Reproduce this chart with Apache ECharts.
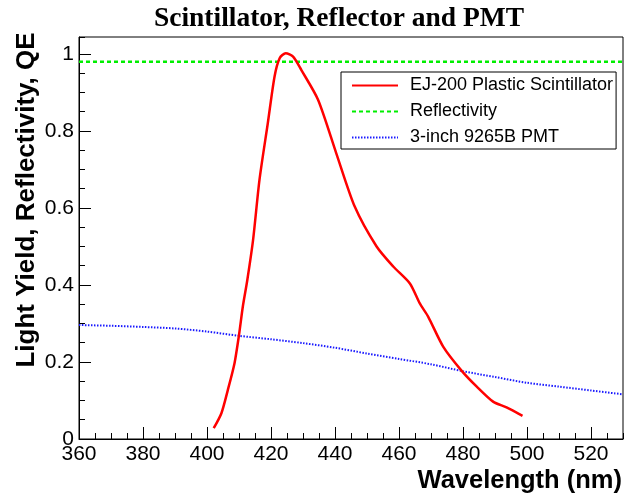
<!DOCTYPE html>
<html>
<head>
<meta charset="utf-8">
<script src="https://cdn.jsdelivr.net/npm/echarts@6/dist/echarts.min.js"></script>
<style>
  html, body { margin: 0; padding: 0; background: #ffffff; }
  #chart { width: 624px; height: 496px; }
</style>
</head>
<body>
<div id="chart"></div>
<script>
// EJ-200 emission spectrum (relative light yield vs wavelength, nm)
const scintWl = [402.1, 404.5, 406.5, 408.6, 410, 411.2, 412.6, 414.4, 416.4, 419, 421.1, 422.7, 424.6, 426.9, 429.5, 434.7, 440.4, 446.2, 453, 458.2, 463.4, 466.5, 469.1, 473.8, 479.6, 484.3, 489.4, 493.6, 498.6];
const scintLy = [0.028, 0.067, 0.127, 0.197, 0.27, 0.344, 0.413, 0.517, 0.673, 0.82, 0.941, 0.989, 1.002, 0.993, 0.958, 0.881, 0.742, 0.603, 0.5, 0.448, 0.404, 0.352, 0.318, 0.24, 0.177, 0.136, 0.097, 0.082, 0.06];

// Reflector reflectivity (flat)
const reflWl = [360, 530];
const reflR = [0.98, 0.98];

// 9265B PMT quantum efficiency
const pmtWl = [360, 370, 380, 390, 400, 410, 420, 430, 440, 450, 460, 470, 480, 490, 500, 510, 520, 530];
const pmtQe = [0.296, 0.294, 0.291, 0.287, 0.279, 0.268, 0.259, 0.249, 0.237, 0.222, 0.208, 0.194, 0.176, 0.161, 0.146, 0.136, 0.126, 0.116];

const seriesNames = ['EJ-200 Plastic Scintillator', 'Reflectivity', '3-inch 9265B PMT'];
const titleText = 'Scintillator, Reflector and PMT';
const xTitle = 'Wavelength (nm)';
const yTitle = 'Light Yield, Reflectivity, QE';

const zip = (xs, ys) => xs.map((x, i) => [x, ys[i]]);

const X_MIN = 360, X_MAX = 530, Y_MIN = 0, Y_MAX = 1.044;
const labelFont = { fontFamily: 'Liberation Sans', fontSize: 21, color: '#000' };

const chart = echarts.init(document.getElementById('chart'), null, { renderer: 'canvas' });

chart.setOption({
  backgroundColor: '#ffffff',
  animation: false,
  title: {
    text: titleText,
    left: 334, top: 0, textAlign: 'center',
    textStyle: { fontFamily: 'Liberation Serif', fontWeight: 'bold', fontSize: 27.5, color: '#000' }
  },
  grid: {
    left: 79, right: 1, top: 37, bottom: 57,
    show: true, borderColor: '#000', borderWidth: 1, backgroundColor: 'transparent'
  },
  legend: {
    orient: 'vertical',
    left: 341, top: 72,
    padding: [3, 3, 1, 10],
    itemGap: 5,
    itemWidth: 46, itemHeight: 14,
    backgroundColor: '#fff',
    borderColor: '#000', borderWidth: 1,
    itemStyle: { opacity: 0 },
    textStyle: { fontFamily: 'Liberation Sans', fontSize: 18, color: '#000', padding: [0, 0, 0, 7], lineHeight: 21 },
    data: seriesNames
  },
  xAxis: [
    {
      type: 'value', min: X_MIN, max: X_MAX, interval: 20,
      axisLine: { show: true, onZero: false, lineStyle: { color: '#000', width: 1 } },
      axisTick: { show: true, inside: true, length: 12, lineStyle: { color: '#000' } },
      axisLabel: Object.assign({ margin: 5, showMaxLabel: false }, labelFont),
      splitLine: { show: false }
    },
    {
      type: 'value', min: X_MIN, max: X_MAX, interval: 5, position: 'bottom',
      axisLine: { show: false },
      axisTick: { show: true, inside: true, length: 6, lineStyle: { color: '#000' } },
      axisLabel: { show: false },
      splitLine: { show: false }
    }
  ],
  yAxis: [
    {
      type: 'value', min: Y_MIN, max: Y_MAX, interval: 0.2,
      axisLine: { show: true, onZero: false, lineStyle: { color: '#000', width: 1 } },
      axisTick: { show: true, inside: true, length: 12, lineStyle: { color: '#000' } },
      axisLabel: Object.assign({ margin: 5, showMaxLabel: false }, labelFont),
      splitLine: { show: false }
    },
    {
      type: 'value', min: Y_MIN, max: Y_MAX, interval: 0.05, position: 'left',
      axisLine: { show: false },
      axisTick: { show: true, inside: true, length: 6, lineStyle: { color: '#000' } },
      axisLabel: { show: false },
      splitLine: { show: false }
    }
  ],
  graphic: [
    {
      type: 'text', x: 622, y: 481,
      style: { text: xTitle, align: 'right', verticalAlign: 'middle',
        font: 'bold 25.5px "Liberation Sans"', fill: '#000' }
    },
    {
      type: 'text', x: 27, y: 200, rotation: Math.PI / 2,
      style: { text: yTitle, align: 'center', verticalAlign: 'middle',
        font: 'bold 26px "Liberation Sans"', fill: '#000' }
    }
  ],
  series: [
    {
      name: seriesNames[0], type: 'line', data: zip(scintWl, scintLy),
      xAxisIndex: 0, yAxisIndex: 0,
      smooth: 0.25, showSymbol: false, symbol: 'none',
      lineStyle: { color: '#ff0000', width: 2.5 },
      itemStyle: { color: '#ff0000' }, z: 3
    },
    {
      name: seriesNames[1], type: 'line', data: zip(reflWl, reflR),
      xAxisIndex: 0, yAxisIndex: 0,
      showSymbol: false, symbol: 'none',
      lineStyle: { color: '#00ee00', width: 2.5, type: [4, 3] },
      itemStyle: { color: '#00ee00' }, z: 2
    },
    {
      name: seriesNames[2], type: 'line', data: zip(pmtWl, pmtQe),
      xAxisIndex: 0, yAxisIndex: 0,
      smooth: 0.3, showSymbol: false, symbol: 'none',
      lineStyle: { color: '#1a1aff', width: 2, type: [1.5, 1.5] },
      itemStyle: { color: '#1a1aff' }, z: 2
    }
  ]
});
</script>
</body>
</html>
